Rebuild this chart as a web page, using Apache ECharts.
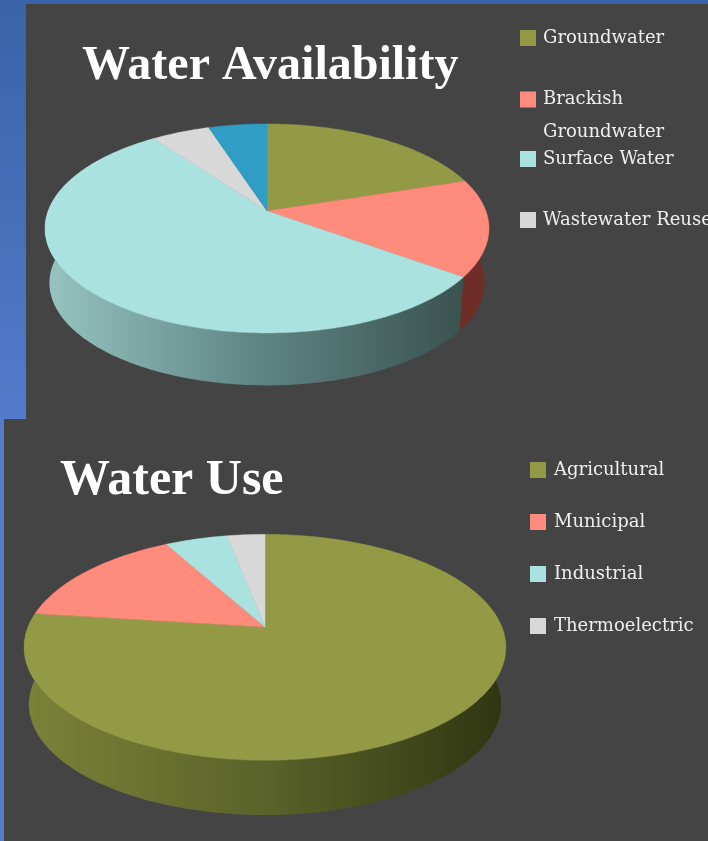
<!DOCTYPE html>
<html><head><meta charset="utf-8">
<style>html,body{margin:0;padding:0;background:#444}#c{width:708px;height:841px}</style>
<script src="https://cdn.jsdelivr.net/npm/echarts@6/dist/echarts.min.js"></script>
</head><body><div id="c"></div>
<script>
// Data
const availabilityCategories = ['Groundwater', 'Brackish\nGroundwater', 'Surface Water', 'Wastewater Reuse', 'Other'];
const availabilityValues = [20, 15, 55, 5, 5];
const useCategories = ['Agricultural', 'Municipal', 'Industrial', 'Thermoelectric'];
const useValues = [77, 15, 5, 3];

// Styles & layout
const OLIVE='#939a45', RED='#ff8b7d', CYAN='#a9e2de', GREY='#d8d8d8', BLUE='#2f9dc4';
const availabilityColors=[OLIVE,RED,CYAN,GREY,BLUE];
const useColors=[OLIVE,RED,CYAN,GREY];
const grad=(x0,x1,a,b,c)=>new echarts.graphic.LinearGradient(x0,0,x1,0,[{offset:0,color:a},{offset:.5,color:b},{offset:1,color:c}],true);
const availabilitySides=[ '#4a4e22','#6e2d26',grad(44,470,'#97c4c1','#5f8583','#39514f'),'#777','#1d5f77'];
const useSides=[grad(24,505,'#7b8239','#5a6329','#2f3512'),'#6e2d26','#5f8583','#777'];
const PIE_A={ax:267,ay:211,a:218.9,b:101.6,k:0.167,dy:54.5,scale:0.98,cy:228.5};
const PIE_B={ax:265,ay:627,a:237,b:109.3,k:0.18,dy:57,scale:0.98,cy:647};
const SERIF='"Liberation Serif","DejaVu Serif",serif';
const LEGEND_SERIF='"DejaVu Serif","Liberation Serif",serif';

function project(p,share,depth){
  const t=share/100*Math.PI*2, u=Math.sin(t), v=-Math.cos(t), w=1-p.k*v;
  const x=p.ax+p.a*u/w, y=p.ay+p.b*v/w;
  if(!depth) return [x,y];
  return [p.ax+(x-p.ax)*p.scale, p.cy+p.dy+(y-p.cy)*p.scale];
}
function arc(p,s,e,depth){
  const n=Math.max(2,Math.ceil((e-s)*3)),pts=[];
  for(let i=0;i<=n;i++) pts.push(project(p,s+(e-s)*i/n,depth));
  return pts;
}
function topRender(p,fill){return (params,api)=>{
  const s=api.value(0),e=api.value(1);
  return {type:'polygon',shape:{points:[[p.ax,p.ay]].concat(arc(p,s,e,false))},style:{fill:fill,stroke:fill,lineWidth:.4}};
};}
function sideRender(p,fill){return (params,api)=>{
  const s=api.value(0),e=api.value(1);
  return {type:'polygon',shape:{points:arc(p,s,e,false).concat(arc(p,s,e,true).reverse())},style:{fill:fill}};
};}
function pieSeries(p,names,values,colors,sides){
  const out=[];let c=0;const spans=values.map(v=>{const r=[c,c+v];c+=v;return r;});
  names.forEach((n,i)=>out.push({type:'custom',coordinateSystem:'none',name:n,z:5,silent:true,
    itemStyle:{color:colors[i]},renderItem:topRender(p,colors[i]),data:[spans[i]]}));
  names.forEach((n,i)=>out.push({type:'custom',coordinateSystem:'none',name:n+' side',z:4,silent:true,
    renderItem:sideRender(p,sides[i]),data:[spans[i]]}));
  return out;
}
const legendBase={selectedMode:false,icon:'rect',itemWidth:16,itemHeight:16,itemGap:0,padding:0,orient:'vertical'};
const legendFont={color:'#eeeeee',fontFamily:LEGEND_SERIF,fontSize:18};
function legendItem(name,left,top,gapPad){
  const multi=name.indexOf('\n')>=0;
  return Object.assign({},legendBase,{left:left,top:top,data:[name],
    formatter:multi?(n=>'\n'+n):undefined,
    textStyle:Object.assign({},legendFont,{lineHeight:multi?33:22,padding:[0,0,0,gapPad]})});
}
const availabilityLegendTops=[27,50,148,209], useLegendTops=[459,511,563,615];

const bluePanel=new echarts.graphic.LinearGradient(0,0,0,1,[{offset:0,color:'#3a62a8'},{offset:1,color:'#527ccb'}]);
const option={
  backgroundColor:'#444444',animation:false,
  title:[
    {text:'Water Availability',left:82,top:43,padding:0,textStyle:{color:'#fff',fontFamily:SERIF,fontSize:48,fontWeight:'bold'}},
    {text:'Water Use',left:60,top:456,padding:0,textStyle:{color:'#fff',fontFamily:SERIF,fontSize:50,fontWeight:'bold'}}
  ],
  legend:availabilityCategories.slice(0,4).map((n,i)=>legendItem(n,520,availabilityLegendTops[i],2))
    .concat(useCategories.map((n,i)=>legendItem(n,530,useLegendTops[i],3))),
  graphic:{elements:[
    {type:'rect',z:-10,silent:true,shape:{x:0,y:0,width:708,height:4},style:{fill:'#3a62a8'}},
    {type:'rect',z:-10,silent:true,shape:{x:0,y:0,width:26,height:419},style:{fill:bluePanel}},
    {type:'rect',z:-10,silent:true,shape:{x:0,y:419,width:4,height:422},style:{fill:'#527ccb'}}
  ]},
  series:pieSeries(PIE_A,availabilityCategories,availabilityValues,availabilityColors,availabilitySides)
    .concat(pieSeries(PIE_B,useCategories,useValues,useColors,useSides))
};
echarts.init(document.getElementById('c'),null,{renderer:'canvas'}).setOption(option);
</script></body></html>
